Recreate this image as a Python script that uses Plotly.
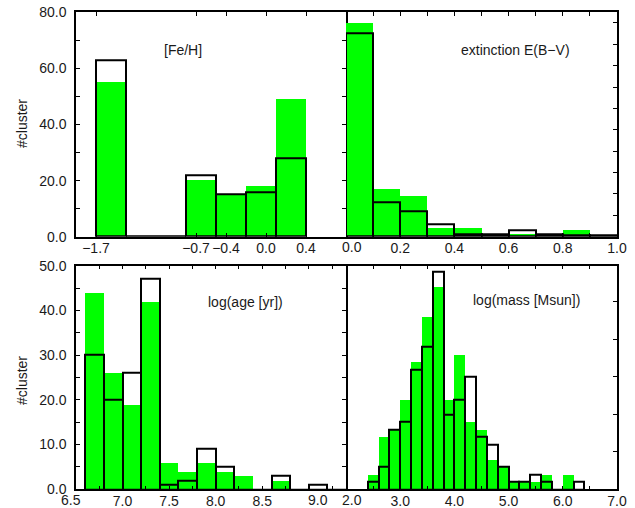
import plotly.graph_objects as go

# ---------------- data ----------------
# [Fe/H] histogram (bin width 0.3)
feh_left = [-1.7, -1.4, -1.1, -0.8, -0.5, -0.2, 0.1]
feh_green = [55, 0, 0, 20, 15, 18, 49]
feh_black = [63, 0, 0, 22, 15, 16, 28]
feh_ticks = [-1.7, -0.7, -0.4, 0.0, 0.4]

# extinction E(B-V) histogram (bin width 0.1)
ext_left = [0.0, 0.1, 0.2, 0.3, 0.4, 0.5, 0.6, 0.7, 0.8, 0.9]
ext_green = [100, 22, 19, 4, 4, 1, 1, 1, 3, 0]
ext_black = [95, 16, 12, 6, 1, 1, 3, 1, 0.6, 0.6]
ext_ticks = [0.2, 0.4, 0.6, 0.8, 1.0]

# log(age) histogram (bin width 0.2)
age_left = [6.6, 6.8, 7.0, 7.2, 7.4, 7.6, 7.8, 8.0, 8.2, 8.4, 8.6, 8.8, 9.0, 9.2]
age_green = [44, 26, 19, 42, 6, 4, 6, 4, 3, 0, 2, 0, 0, 0]
age_black = [30, 20, 26, 47, 1, 2, 9, 5, 0, 0, 3, 0, 1, 0]
age_ticks = [7.0, 7.5, 8.0, 8.5]

# log(mass) histogram (bin width 0.2)
mass_left = [2.4, 2.6, 2.8, 3.0, 3.2, 3.4, 3.6, 3.8, 4.0, 4.2,
             4.4, 4.6, 4.8, 5.0, 5.2, 5.4, 5.6, 5.8, 6.0, 6.2]
mass_green = [2, 7, 8, 12, 17, 23, 27, 12, 18, 9, 8, 4, 3, 1, 1, 1, 2, 0, 2, 0]
mass_black = [1, 3, 8, 9, 16, 19, 29, 10, 12, 15, 7, 6, 3, 1, 1, 2, 1, 0, 0, 1]
mass_ticks = [3.0, 4.0, 5.0, 6.0, 7.0]

GREEN = "#00ff00"
FONT = "Liberation Sans, Arial, Helvetica, sans-serif"
FS = 14
TXT = "#1a1a1a"
W, H = 635, 508

fig = go.Figure()


def add_hist(left, green, black, width, xa, ya):
    centers = [l + width / 2 for l in left]
    fig.add_trace(go.Bar(x=centers, y=green, width=width, base=0,
                         marker=dict(color=GREEN, line=dict(width=0)),
                         xaxis=xa, yaxis=ya, showlegend=False, hoverinfo="skip"))
    fig.add_trace(go.Bar(x=centers, y=black, width=width, base=0,
                         marker=dict(color="rgba(0,0,0,0)",
                                     line=dict(color="black", width=2)),
                         xaxis=xa, yaxis=ya, showlegend=False, hoverinfo="skip"))


add_hist(feh_left, feh_green, feh_black, 0.3, "x", "y")
add_hist(ext_left, ext_green, ext_black, 0.1, "x2", "y2")
add_hist(age_left, age_green, age_black, 0.2, "x3", "y3")
add_hist(mass_left, mass_green, mass_black, 0.2, "x4", "y4")

# pixel geometry -> paper fractions
xl0, xl1, xr1 = 76 / W, 346 / W, 617 / W
yt0, yt1 = 1 - 236.7 / H, 1 - 12.3 / H
yb0, yb1 = 1 - 489.3 / H, 1 - 265.7 / H

base_axis = dict(showline=True, linecolor="black", linewidth=1.5, mirror="ticks",
                 ticks="inside", ticklen=4, tickwidth=1, tickcolor="black",
                 showgrid=False, zeroline=False, fixedrange=True, automargin=False,
                 tickfont=dict(family=FONT, size=FS, color=TXT))


def ax(**kw):
    d = dict(base_axis)
    d.update(kw)
    return d


def minor(dt, t0=None):
    d = dict(ticks="inside", ticklen=4, tickcolor="black", dtick=dt, showgrid=False)
    if t0 is not None:
        d["tick0"] = t0
    return d


XSO = -2  # pull x tick labels a little closer to the axis

fig.update_layout(
    width=W, height=H, template="none",
    margin=dict(l=0, r=0, t=0, b=0),
    paper_bgcolor="white", plot_bgcolor="white",
    barmode="overlay", bargap=0,
    font=dict(family=FONT, size=FS, color=TXT),
    xaxis=ax(domain=[xl0, xl1], anchor="y", range=[-1.9, 0.8],
             tickmode="array", tickvals=feh_ticks, tickformat=".1f", ticklabelstandoff=XSO),
    yaxis=ax(domain=[yt0, yt1], anchor="x", range=[0, 80], dtick=20, tick0=0,
             tickformat=".1f", minor=minor(10), ticklabelstandoff=5),
    xaxis2=ax(domain=[xl1, xr1], anchor="y2", range=[0, 1.0],
              tickmode="array", tickvals=ext_ticks,
              tickformat=".1f", minor=minor(0.1, 0), ticklabelstandoff=XSO),
    yaxis2=ax(domain=[yt0, yt1], anchor="x2", range=[0, 105], dtick=20, tick0=0,
              side="right", mirror=False,
              showticklabels=False, minor=minor(10, 0)),
    xaxis3=ax(domain=[xl0, xl1], anchor="y3", range=[6.5, 9.4],
              tickmode="array", tickvals=age_ticks,
              tickformat=".1f", minor=minor(0.25, 6.5), ticklabelstandoff=XSO),
    yaxis3=ax(domain=[yb0, yb1], anchor="x3", range=[0, 50], dtick=10, tick0=0,
              tickformat=".1f", minor=minor(5), ticklabelstandoff=5),
    xaxis4=ax(domain=[xl1, xr1], anchor="y4", range=[2.0, 7.0],
              tickmode="array", tickvals=mass_ticks,
              tickformat=".1f", minor=minor(0.5, 2.0), ticklabelstandoff=XSO),
    yaxis4=ax(domain=[yb0, yb1], anchor="x4", range=[0, 29.8], dtick=5, tick0=0,
              side="right", mirror=False, showticklabels=False),
)

# tick labels that the original nudges sideways to avoid collisions
edge_labels = [
    ("0.0", 351.5, 246.5),
    ("6.5", 70.5, 499.5),
    ("9.0", 318, 499.5),
    ("2.0", 351.5, 499.5),
]
for text, px, py in edge_labels:
    fig.add_annotation(text=text, x=px / W, y=1 - py / H, xref="paper", yref="paper",
                       showarrow=False, xanchor="center", yanchor="middle",
                       font=dict(family=FONT, size=FS, color=TXT))

ann = [
    ("[Fe/H]", 183, 50, 0),
    ("extinction E(B\u2212V)", 515, 50, 0),
    ("log(age [yr])", 245, 302, 0),
    ("log(mass [Msun])", 526, 300, 0),
    ("#cluster", 22, 124, -90),
    ("#cluster", 22, 381, -90),
]
for text, px, py, ang in ann:
    fig.add_annotation(text=text, x=px / W, y=1 - py / H, xref="paper", yref="paper",
                       showarrow=False, textangle=ang, xanchor="center", yanchor="middle",
                       font=dict(family=FONT, size=FS, color=TXT))

fig.write_html("out.html", config={"displayModeBar": False},
               post_script="document.body.style.margin='0px';"
                           "document.body.style.overflow='hidden';")
